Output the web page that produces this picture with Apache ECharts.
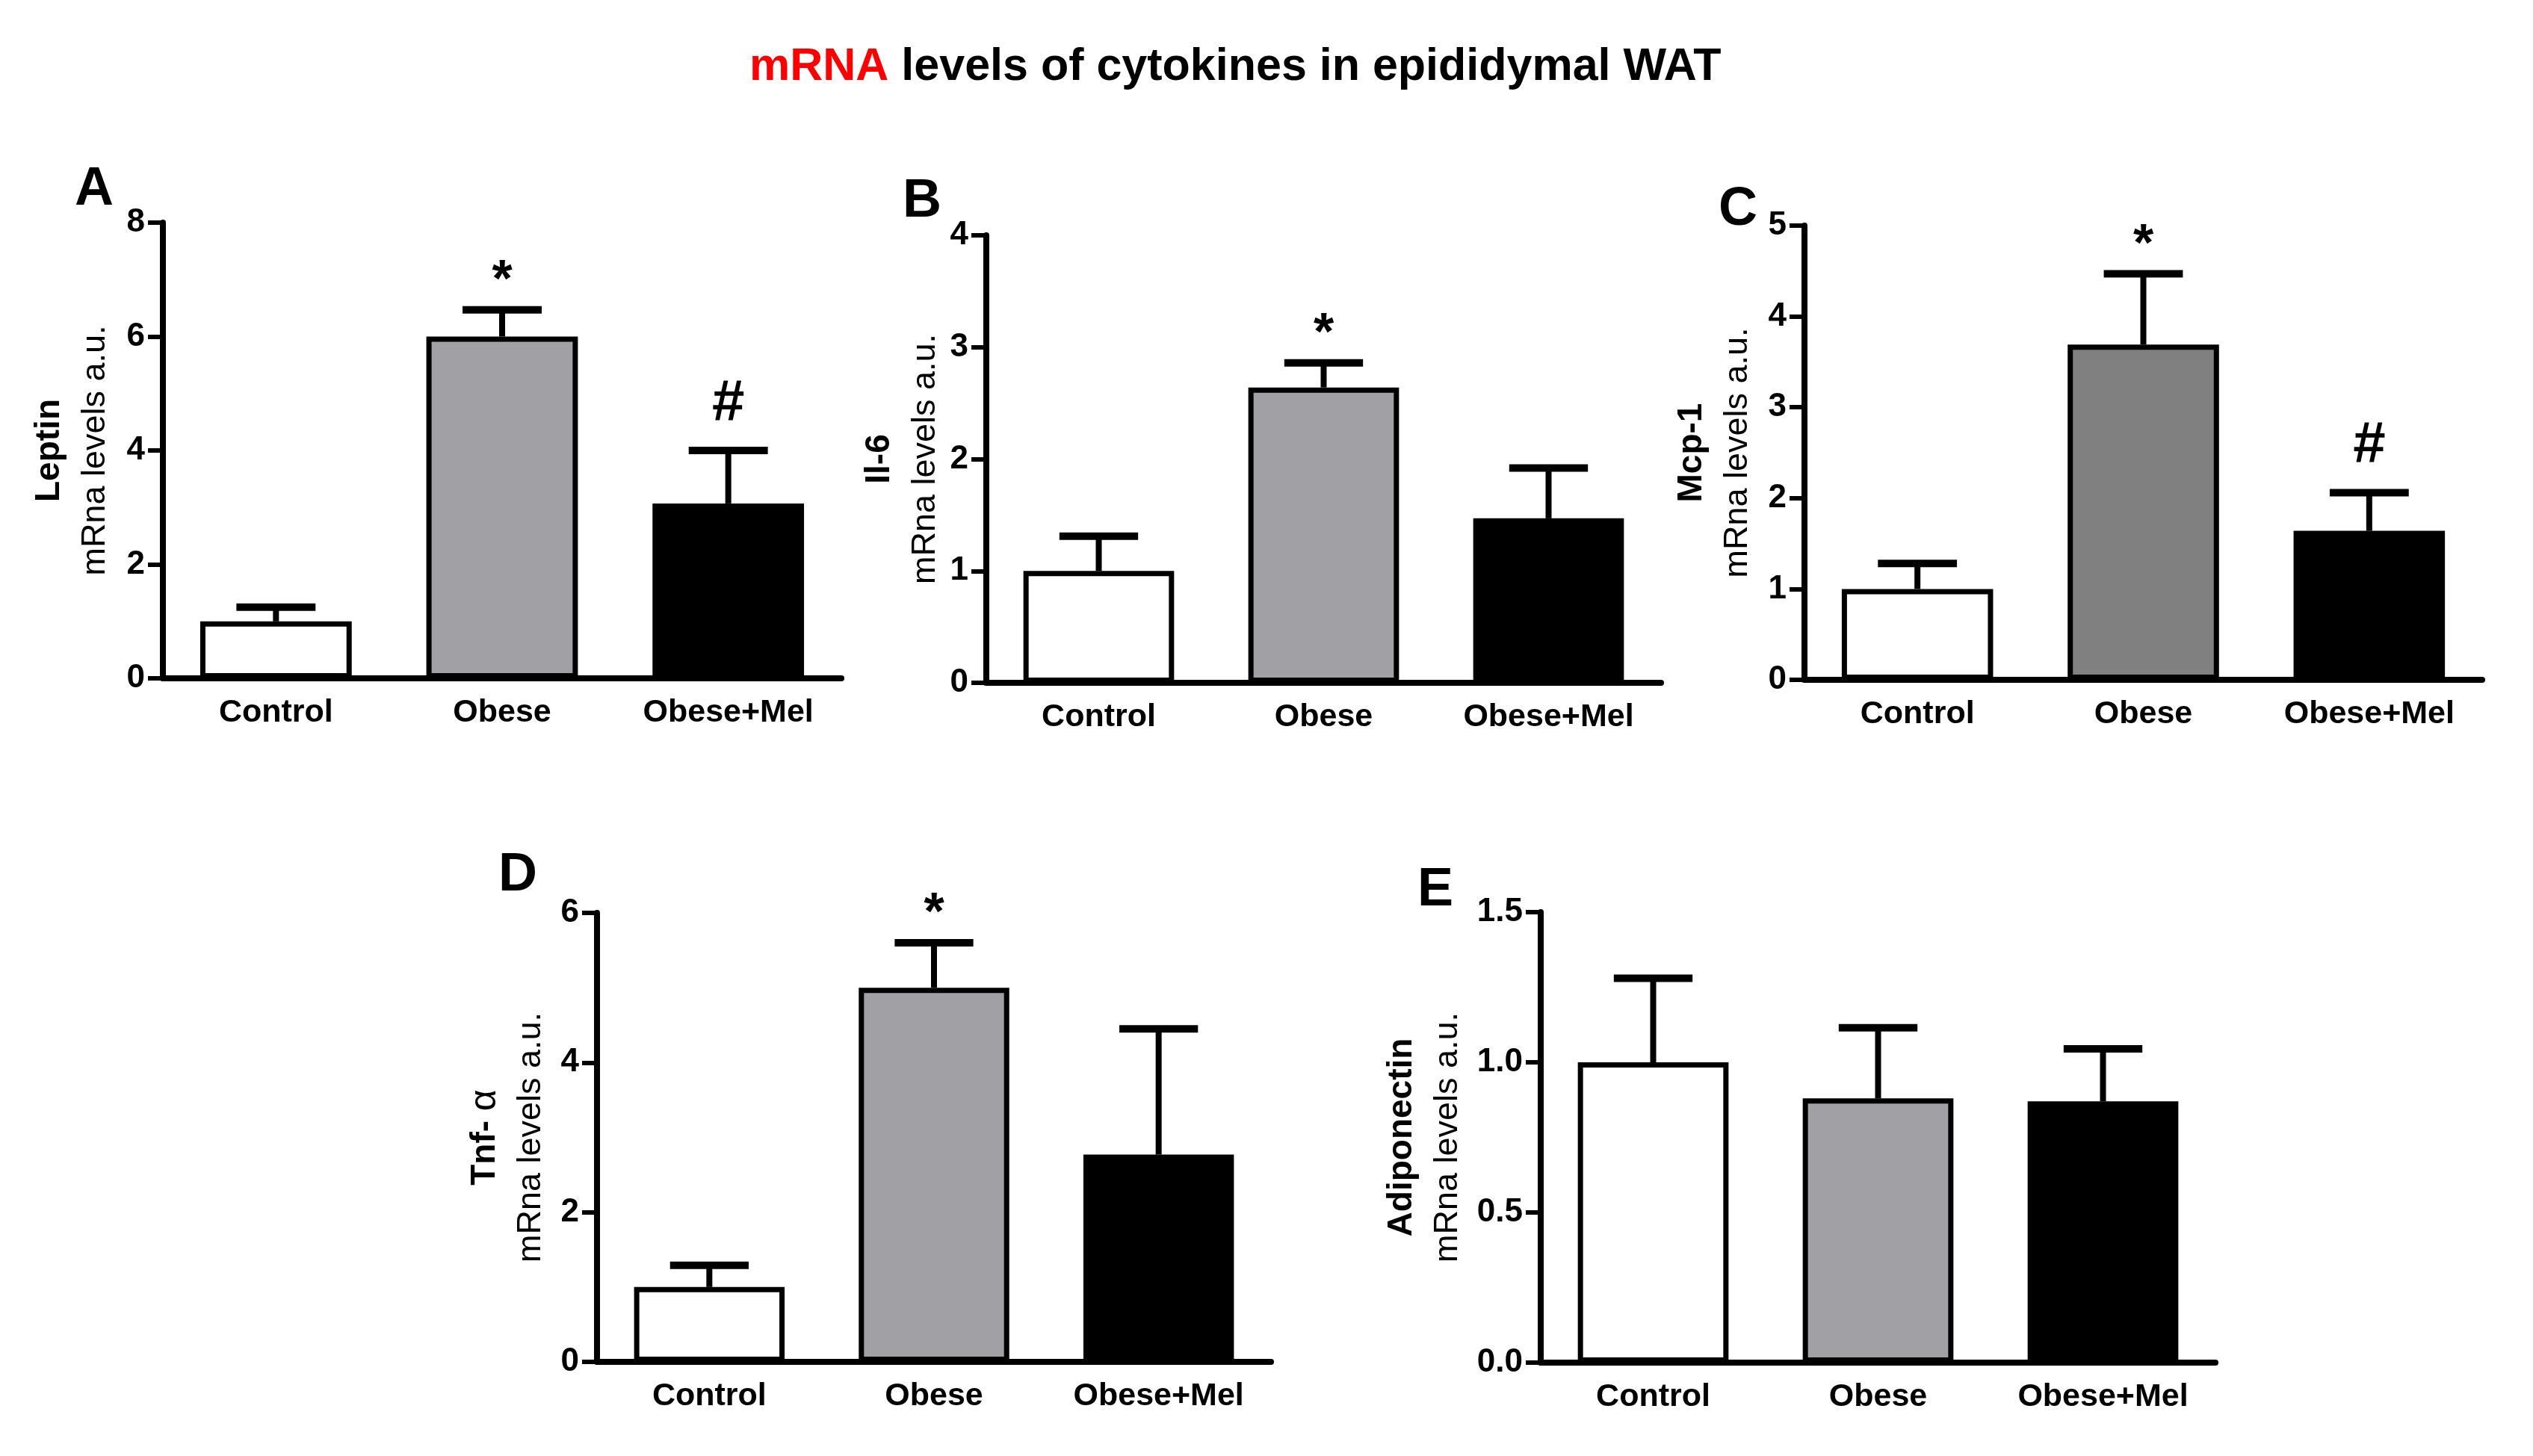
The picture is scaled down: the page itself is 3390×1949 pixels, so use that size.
<!DOCTYPE html>
<html><head><meta charset="utf-8">
<script src="https://cdn.jsdelivr.net/npm/echarts/dist/echarts.min.js"></script>
<style>html,body{margin:0;padding:0;background:#fff}#c{width:3390px;height:1949px}</style>
</head><body><div id="c"></div>
<script>
// ---------------- data ----------------
const categories = ['Control', 'Obese', 'Obese+Mel'];

const leptinMean = [1.0, 6.0, 3.07];
const leptinSem  = [0.25, 0.47, 0.93];
const leptinMarks = ['', '*', '#'];
const leptinTicks = [0, 2, 4, 6, 8];

const il6Mean = [1.0, 2.64, 1.47];
const il6Sem  = [0.31, 0.22, 0.45];
const il6Marks = ['', '*', ''];
const il6Ticks = [0, 1, 2, 3, 4];

const mcp1Mean = [1.0, 3.69, 1.64];
const mcp1Sem  = [0.28, 0.78, 0.42];
const mcp1Marks = ['', '*', '#'];
const mcp1Ticks = [0, 1, 2, 3, 4, 5];

const tnfMean = [1.0, 5.0, 2.77];
const tnfSem  = [0.29, 0.60, 1.68];
const tnfMarks = ['', '*', ''];
const tnfTicks = [0, 2, 4, 6];

const adipoMean = [1.0, 0.88, 0.87];
const adipoSem  = [0.28, 0.235, 0.175];
const adipoMarks = ['', '', ''];
const adipoTicks = [0.0, 0.5, 1.0, 1.5];

// ---------------- layout / style ----------------
const FONT = '"Liberation Sans", Arial, Helvetica, sans-serif';
const GRAY = '#a1a0a5';
const GRAY_C = '#808080';

const panels = [
  {letter: 'A', title: '{b|Leptin}', mean: leptinMean, sem: leptinSem, marks: leptinMarks, ticks: leptinTicks, dec: 0, gray: GRAY,
   grid: {left: 218, top: 298, width: 908, height: 610}, nameGap: 59, lt: {left: 100, top: 219}},
  {letter: 'B', title: '{b|Il-6}', mean: il6Mean, sem: il6Sem, marks: il6Marks, ticks: il6Ticks, dec: 0, gray: GRAY,
   grid: {left: 1320, top: 315, width: 903, height: 599}, nameGap: 50, lt: {left: 1208, top: 235}},
  {letter: 'C', title: '{b|Mcp-1}', mean: mcp1Mean, sem: mcp1Sem, marks: mcp1Marks, ticks: mcp1Ticks, dec: 0, gray: GRAY_C,
   grid: {left: 2415, top: 302, width: 907, height: 608}, nameGap: 58, lt: {left: 2300, top: 246}},
  {letter: 'D', title: '{b|Tnf- }{a|α}', mean: tnfMean, sem: tnfSem, marks: tnfMarks, ticks: tnfTicks, dec: 0, gray: GRAY,
   grid: {left: 799, top: 1222, width: 902, height: 601}, nameGap: 57, lt: {left: 667, top: 1137}},
  {letter: 'E', title: '{b|Adiponectin}', mean: adipoMean, sem: adipoSem, marks: adipoMarks, ticks: adipoTicks, dec: 1, gray: GRAY,
   grid: {left: 2062, top: 1221, width: 903, height: 603}, nameGap: 93, lt: {left: 1897, top: 1157}}
];

const chart = echarts.init(document.getElementById('c'), null, {renderer: 'canvas'});

const option = {
  backgroundColor: '#ffffff',
  animation: false,
  title: [{
    text: '{r|mRNA}{k| levels of cytokines in epididymal WAT}',
    left: 1003, top: 59, padding: 0,
    textStyle: {
      rich: {
        r: {color: '#ff0000', fontFamily: FONT, fontWeight: 'bold', fontSize: 61, lineHeight: 62},
        k: {color: '#000000', fontFamily: FONT, fontWeight: 'bold', fontSize: 61, lineHeight: 62}
      }
    }
  }],
  grid: [], xAxis: [], yAxis: [], series: []
};

panels.forEach((p, i) => {
  option.title.push({
    text: p.letter, left: p.lt.left, top: p.lt.top, padding: 0,
    textStyle: {fontFamily: FONT, fontWeight: 'bold', fontSize: 72, lineHeight: 70, color: '#000'}
  });
  option.grid.push(Object.assign({containLabel: false}, p.grid));
  option.xAxis.push({
    type: 'category', gridIndex: i, data: categories,
    axisLine: {lineStyle: {color: '#000', width: 8}},
    axisTick: {alignWithLabel: true, length: 20, lineStyle: {color: '#000', width: 6}},
    axisLabel: {interval: 0, margin: 25, color: '#000', fontFamily: FONT, fontWeight: 'bold', fontSize: 43},
    splitLine: {show: false}
  });
  const t = p.ticks;
  option.yAxis.push({
    type: 'value', gridIndex: i,
    min: t[0], max: t[t.length - 1], interval: t[1] - t[0],
    axisLine: {show: true, lineStyle: {color: '#000', width: 8}},
    axisTick: {show: true, length: 20, lineStyle: {color: '#000', width: 6}},
    axisLabel: {margin: 24, color: '#000', fontFamily: FONT, fontWeight: 'bold', fontSize: 44,
      formatter: v => v.toFixed(p.dec)},
    splitLine: {show: false},
    name: p.title + '\n{r|mRna levels a.u.}',
    nameLocation: 'middle', nameRotate: 90, nameGap: p.nameGap,
    nameTextStyle: {
      rich: {
        b: {fontFamily: FONT, fontWeight: 'bold', fontSize: 46, lineHeight: 62, color: '#000'},
        a: {fontFamily: FONT, fontWeight: 'normal', fontSize: 50, lineHeight: 62, color: '#000'},
        r: {fontFamily: FONT, fontWeight: 'normal', fontSize: 45, lineHeight: 62, color: '#000'}
      }
    }
  });
  const fills = ['#ffffff', p.gray, '#000000'];
  option.series.push({
    type: 'bar', xAxisIndex: i, yAxisIndex: i, barWidth: '67%',
    data: p.mean.map((v, k) => ({value: v, itemStyle: {color: fills[k], borderColor: '#000', borderWidth: 7}})),
    z: 2
  });
  const marks = p.marks;
  option.series.push({
    type: 'custom', xAxisIndex: i, yAxisIndex: i, z: 3,
    encode: {x: 0, y: 1},
    data: p.mean.map((v, k) => [k, v, p.sem[k]]),
    renderItem: function (params, api) {
      const idx = api.value(0), m = api.value(1), s = api.value(2);
      const p0 = api.coord([idx, m]);
      const p1 = api.coord([idx, m + s]);
      const band = api.size([1, 0])[0];
      const hw = band * 0.175;
      const children = [
        {type: 'line', shape: {x1: p0[0], y1: p0[1], x2: p1[0], y2: p1[1]},
         style: {stroke: '#000', lineWidth: 8, lineCap: 'butt'}},
        {type: 'line', shape: {x1: p1[0] - hw, y1: p1[1], x2: p1[0] + hw, y2: p1[1]},
         style: {stroke: '#000', lineWidth: 10, lineCap: 'butt'}}
      ];
      const mk = marks[idx];
      if (mk) {
        const off = mk === '*' ? 37 : 62;
        const fs = mk === '*' ? 70 : 78;
        children.push({type: 'text', style: {text: mk, x: p1[0], y: p1[1] - off,
          align: 'center', verticalAlign: 'middle', fill: '#000',
          font: 'bold ' + fs + 'px ' + FONT}});
      }
      return {type: 'group', children: children};
    }
  });
});

chart.setOption(option);
</script>
</body></html>
